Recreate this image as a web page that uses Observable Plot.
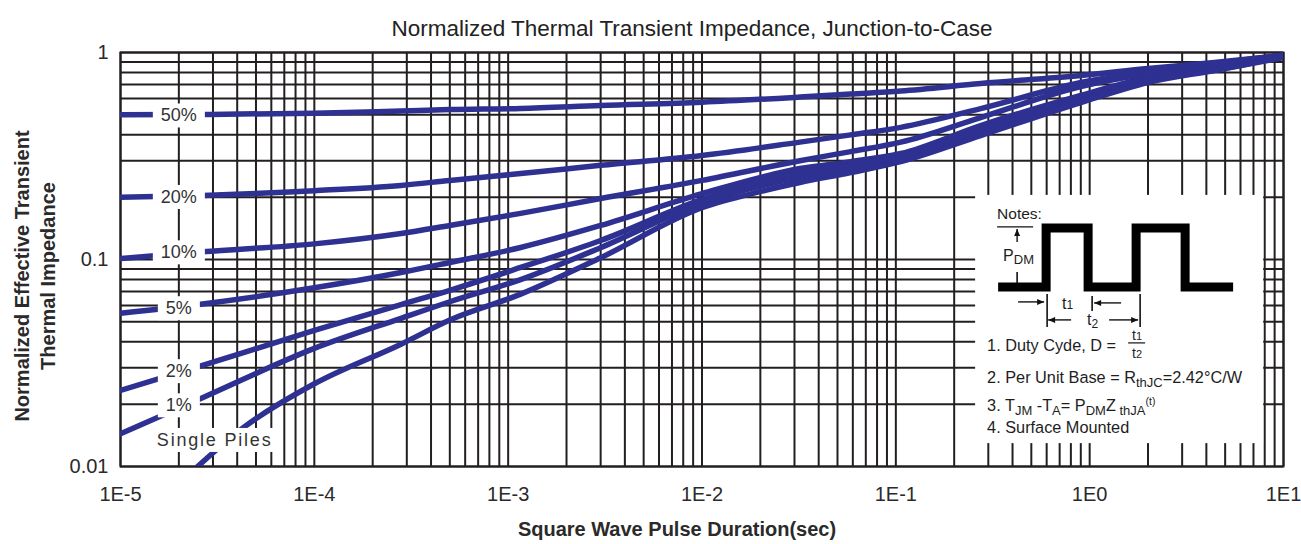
<!DOCTYPE html>
<html>
<head>
<meta charset="utf-8">
<script src="https://cdn.jsdelivr.net/npm/d3@7"></script>
<script src="https://cdn.jsdelivr.net/npm/@observablehq/plot@0.6"></script>
<style>
  html, body { margin: 0; padding: 0; background: #fff; }
  #chart { width: 1301px; height: 544px; overflow: hidden; }
</style>
</head>
<body>
<div id="chart"></div>
<script>
// ---------- data ----------
const tDuty   = [1e-5, 2.65e-5, 1e-4, 2.8e-4, 5e-4, 1.16e-3, 3e-3, 1e-2, 3.2e-2, 5.85e-2, 0.106, 0.274, 0.9, 2, 4.4, 10];
const z50     = [0.50, 0.502, 0.509, 0.522, 0.53, 0.537, 0.555, 0.575, 0.609, 0.63, 0.652, 0.708, 0.774, 0.837, 0.895, 0.97];
const z20     = [0.20, 0.204, 0.215, 0.228, 0.241, 0.26, 0.285, 0.318, 0.369, 0.40, 0.435, 0.536, 0.716, 0.81, 0.885, 0.97];
const z10     = [0.101, 0.109, 0.119, 0.1335, 0.146, 0.167, 0.197, 0.241, 0.30, 0.332, 0.369, 0.485, 0.685, 0.79, 0.865, 0.97];
const z5      = [0.055, 0.061, 0.073, 0.0865, 0.0967, 0.1143, 0.146, 0.208, 0.275, 0.297, 0.325, 0.444, 0.62, 0.757, 0.847, 0.965];
const z2      = [0.0233, 0.0308, 0.0454, 0.0606, 0.071, 0.0915, 0.1235, 0.195, 0.263, 0.285, 0.311, 0.43, 0.606, 0.748, 0.837, 0.96];
const z1      = [0.0144, 0.0215, 0.0372, 0.052, 0.0625, 0.080, 0.114, 0.187, 0.249, 0.272, 0.30, 0.415, 0.586, 0.733, 0.82, 0.955];
const tSingle = [2.5e-5, 4.3e-5, 1e-4, 2.8e-4, 5e-4, 1.16e-3, 3e-3, 1e-2, 2e-2, 3.2e-2, 5.85e-2, 0.106, 0.274, 0.9, 2, 4.4, 10];
const zSingle = [0.010, 0.0154, 0.0251, 0.039, 0.051, 0.068, 0.102, 0.178, 0.213, 0.2355, 0.263, 0.297, 0.397, 0.573, 0.716, 0.819, 0.946];

const seriesNames = ["50%", "20%", "10%", "5%", "2%", "1%", "Single Piles"];

// curve labels (anchor in data units)
const labelText = ["50%", "20%", "10%", "5%", "2%", "1%", "Single Piles"];
const labelT    = [2e-5, 2e-5, 2e-5, 2e-5, 2e-5, 2e-5, 3.06e-5];
const labelZ    = [0.495, 0.2, 0.108, 0.058, 0.0288, 0.0197, 0.0134];

// axis ticks
const xTickVals = [1e-5, 1e-4, 1e-3, 1e-2, 1e-1, 1, 10];
const xTickText = ["1E-5", "1E-4", "1E-3", "1E-2", "1E-1", "1E0", "1E1"];
const yTickVals = [0.01, 0.1, 1];
const yTickText = ["0.01", "0.1", "1"];

const titleText  = "Normalized Thermal Transient Impedance, Junction-to-Case";
const xLabelText = "Square Wave Pulse Duration(sec)";
const yLabelLines = ["Normalized Effective Transient", "Thermal Impedance"];

// notes panel extent in data units
const notesT = [0.258, 7.9];
const notesZ = [0.0129, 0.204];

// ---------- build ----------
const W = 1301, H = 544, mL = 120, mR = 18, mT = 52, mB = 78;
const FONT = "'Liberation Sans', Arial, Helvetica, sans-serif";
const GRID = "#231f20";
const LINE = "#2e3192";

const tArrays = [tDuty, tDuty, tDuty, tDuty, tDuty, tDuty, tSingle];
const zArrays = [z50, z20, z10, z5, z2, z1, zSingle];
const rows = seriesNames.flatMap((name, s) => tArrays[s].map((t, i) => ({series: name, t, z: zArrays[s][i]})));
const labels = labelText.map((text, i) => ({text, t: labelT[i], z: labelZ[i]}));

const xGrid = d3.scaleLog().domain([1e-5, 10]).ticks();
const yGrid = d3.scaleLog().domain([0.01, 1]).ticks();
const fmt = (vals, texts) => d => texts[vals.findIndex(v => Math.abs(Math.log10(v) - Math.log10(d)) < 1e-6)];

const plot = Plot.plot({
  width: W, height: H,
  marginLeft: mL, marginRight: mR, marginTop: mT, marginBottom: mB,
  style: {fontFamily: FONT, fontSize: "20px", color: "#2a2a2a", background: "#fff", overflow: "visible"},
  x: {type: "log", domain: [1e-5, 10], ticks: xTickVals, tickFormat: fmt(xTickVals, xTickText), tickSize: 0, tickPadding: 20, label: null},
  y: {type: "log", domain: [0.01, 1], ticks: yTickVals, tickFormat: fmt(yTickVals, yTickText), tickSize: 0, tickPadding: 12, label: null},
  marks: [
    Plot.ruleX(xGrid, {stroke: GRID, strokeWidth: 2}),
    Plot.ruleY(yGrid, {stroke: GRID, strokeWidth: 2}),
    Plot.rect([0], {x1: () => notesT[0], x2: () => notesT[1], y1: () => notesZ[0], y2: () => notesZ[1], fill: "#fff"}),
    Plot.frame({stroke: GRID, strokeWidth: 2}),
    Plot.line(rows, {x: "t", y: "z", z: "series", stroke: LINE, strokeWidth: 5.5, curve: "monotone-x", clip: true}),
    Plot.text(labels, {x: "t", y: "z", text: "text", fontSize: 18, fill: "#333"}),
    Plot.text([titleText], {text: d => d, frameAnchor: "top", dy: -32, dx: -10, fontSize: 22.5, fill: "#222"}),
    Plot.text([xLabelText], {text: d => d, frameAnchor: "bottom", dy: 69, dx: -25, fontSize: 20, fontWeight: "bold", fill: "#2a2a2a"})
  ]
});

document.getElementById("chart").appendChild(plot);
const svg = d3.select(plot);

// wider tracking for the "Single Piles" label, as in the reference
svg.selectAll("text").filter(function() { return this.textContent === "Single Piles"; })
  .attr("letter-spacing", "1.8px");

// white boxes behind the curve labels
svg.selectAll("text").filter(function() { return labelText.includes(this.textContent); }).each(function() {
  const bb = this.getBBox();
  const padX = 8, padY = 2;
  const r = document.createElementNS("http://www.w3.org/2000/svg", "rect");
  r.setAttribute("x", bb.x - padX);
  r.setAttribute("y", bb.y - padY);
  r.setAttribute("width", bb.width + 2 * padX);
  r.setAttribute("height", bb.height + 2 * padY);
  r.setAttribute("fill", "#fff");
  const tr = this.getAttribute("transform");
  if (tr) r.setAttribute("transform", tr);
  this.parentNode.insertBefore(r, this);
});

// y axis title (two rotated lines)
const yMid = (mT + (H - mB)) / 2 + 17;
[22, 48].forEach((cx, i) => {
  svg.append("text")
    .attr("transform", `translate(${cx},${yMid}) rotate(-90)`)
    .attr("text-anchor", "middle").attr("dominant-baseline", "central")
    .attr("font-family", FONT).attr("font-size", 20).attr("font-weight", "bold").attr("fill", "#2a2a2a")
    .text(yLabelLines[i]);
});

// ---------- notes panel (annotation) ----------
const xs = d3.scaleLog().domain([1e-5, 10]).range([mL, W - mR]);
const ys = d3.scaleLog().domain([0.01, 1]).range([H - mB, mT]);
const bx = xs(notesT[0]), by = ys(notesZ[1]);
const g = svg.append("g").attr("transform", `translate(${bx},${by})`)
  .attr("font-family", FONT).attr("fill", "#1e1e1e").attr("text-anchor", "start");
const ink = "#111";

function arrow(x1, y1, x2, y2) {
  g.append("line").attr("x1", x1).attr("y1", y1).attr("x2", x2).attr("y2", y2)
    .attr("stroke", ink).attr("stroke-width", 1.4);
  const a = Math.atan2(y2 - y1, x2 - x1), L = 7, Wd = 3;
  const p = [[x2, y2],
    [x2 - L * Math.cos(a) + Wd * Math.sin(a), y2 - L * Math.sin(a) - Wd * Math.cos(a)],
    [x2 - L * Math.cos(a) - Wd * Math.sin(a), y2 - L * Math.sin(a) + Wd * Math.cos(a)]];
  g.append("path").attr("d", "M" + p.join("L") + "Z").attr("fill", ink);
}
function vbar(x, y1, y2) {
  g.append("line").attr("x1", x).attr("x2", x).attr("y1", y1).attr("y2", y2)
    .attr("stroke", ink).attr("stroke-width", 1.6);
}

g.append("text").attr("x", 22).attr("y", 24).attr("font-size", 15.5).text("Notes:");
g.append("line").attr("x1", 22).attr("x2", 58).attr("y1", 32).attr("y2", 32).attr("stroke", ink).attr("stroke-width", 1.4);
arrow(42, 47, 42, 34);
const pdm = g.append("text").attr("x", 28).attr("y", 66).attr("font-size", 16);
pdm.append("tspan").text("P");
pdm.append("tspan").attr("font-size", 13).attr("dy", 3).text("DM");
vbar(42, 77, 89);

// square wave
const wave = [[23, 92], [71, 92], [71, 33], [113, 33], [113, 92], [161, 92], [161, 33], [210, 33], [210, 92], [258, 92]];
g.append("path").attr("d", "M" + wave.join("L")).attr("fill", "none")
  .attr("stroke", "#000").attr("stroke-width", 9).attr("stroke-linejoin", "miter");

// timing arrows
arrow(43, 107, 69, 107);
vbar(72, 99, 132);
const t1 = g.append("text").attr("x", 87).attr("y", 114).attr("font-size", 16);
t1.append("tspan").text("t");
t1.append("tspan").attr("font-size", 12).text("1");
vbar(117, 101, 116);
arrow(146, 108, 119, 108);
arrow(96, 125, 73, 125);
const t2 = g.append("text").attr("x", 112).attr("y", 130).attr("font-size", 16);
t2.append("tspan").text("t");
t2.append("tspan").attr("font-size", 12).attr("dy", 3).text("2");
arrow(134, 125, 163, 125);
vbar(165, 99, 132);

// notes text
const fs = 16.3, fsub = 13;
g.append("text").attr("x", 12).attr("y", 156).attr("font-size", fs).text("1. Duty Cyde, D =");
const f1 = g.append("text").attr("x", 162).attr("y", 145).attr("font-size", 14).attr("text-anchor", "middle");
f1.append("tspan").text("t"); f1.append("tspan").attr("font-size", 11).text("1");
g.append("line").attr("x1", 153).attr("x2", 170).attr("y1", 148).attr("y2", 148).attr("stroke", ink).attr("stroke-width", 1.2);
const f2 = g.append("text").attr("x", 162).attr("y", 163).attr("font-size", 14).attr("text-anchor", "middle");
f2.append("tspan").text("t"); f2.append("tspan").attr("font-size", 11).text("2");

const n2 = g.append("text").attr("x", 12).attr("y", 188).attr("font-size", fs);
n2.append("tspan").text("2. Per Unit Base = R");
n2.append("tspan").attr("font-size", fsub).attr("dy", 4).text("thJC");
n2.append("tspan").attr("dy", -4).text("=2.42°C/W");

const n3 = g.append("text").attr("x", 12).attr("y", 216).attr("font-size", fs);
n3.append("tspan").text("3. T");
n3.append("tspan").attr("font-size", fsub).attr("dy", 4).text("JM");
n3.append("tspan").attr("dy", -4).text(" -T");
n3.append("tspan").attr("font-size", fsub).attr("dy", 4).text("A");
n3.append("tspan").attr("dy", -4).text("= P");
n3.append("tspan").attr("font-size", fsub).attr("dy", 4).text("DM");
n3.append("tspan").attr("dy", -4).text("Z");
n3.append("tspan").attr("font-size", fsub).attr("dy", 4).text(" thJA");
n3.append("tspan").attr("font-size", 10.5).attr("dy", -10).text("(t)");

g.append("text").attr("x", 12).attr("y", 238).attr("font-size", fs).text("4. Surface Mounted");
</script>
</body>
</html>
